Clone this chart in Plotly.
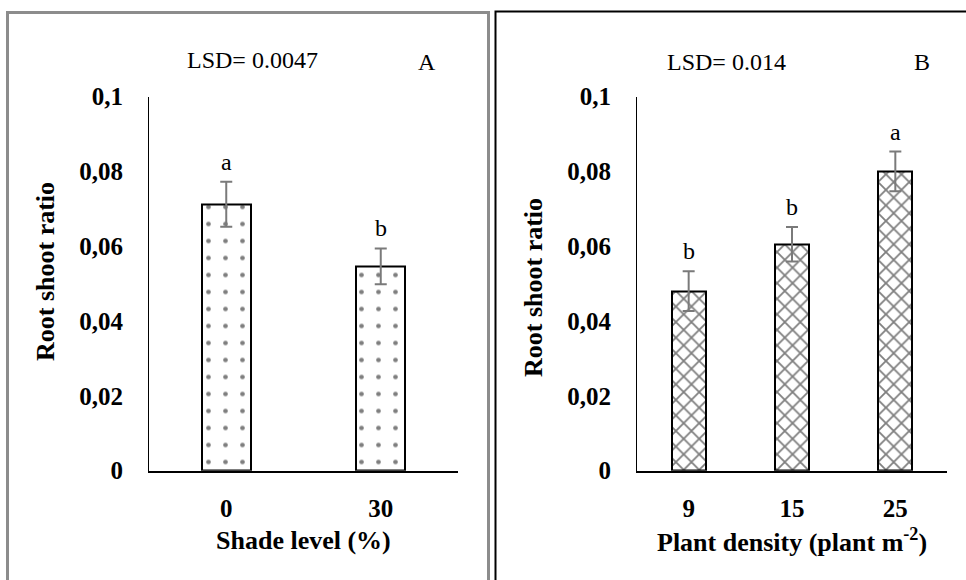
import plotly.graph_objects as go

W, H = 966, 580

# Panel A data
shade_levels = ["0", "30"]
shade_ratio = [0.0712, 0.0546]
shade_err = [0.0060, 0.0048]
shade_letters = ["a", "b"]

# Panel B data
densities = ["9", "15", "25"]
density_ratio = [0.0480, 0.0605, 0.0800]
density_err = [0.0053, 0.0046, 0.0053]
density_letters = ["b", "b", "a"]

y_ticks = [0, 0.02, 0.04, 0.06, 0.08, 0.1]
y_ticklabels = ["0", "0,02", "0,04", "0,06", "0,08", "0,1"]


def px(x):
    return x / W


def py(y):
    return 1 - y / H


FONT = "Liberation Serif"
fig = go.Figure()

fig.add_trace(go.Bar(
    x=shade_levels, y=shade_ratio, width=0.32,
    marker=dict(color="white", line=dict(color="black", width=2),
                pattern=dict(shape=".", fgcolor="black", bgcolor="white", size=17, solidity=0.06)),
    error_y=dict(type="data", array=shade_err, color="#7a7a7a", thickness=2, width=6),
    xaxis="x", yaxis="y", showlegend=False,
))

fig.add_trace(go.Bar(
    x=densities, y=density_ratio, width=0.33,
    marker=dict(color="white", line=dict(color="black", width=2),
                pattern=dict(shape="x", fgcolor="black", bgcolor="white", size=11, solidity=0.3)),
    error_y=dict(type="data", array=density_err, color="#7a7a7a", thickness=2, width=6),
    xaxis="x2", yaxis="y2", showlegend=False,
))

ydom = [py(470.7), py(96.5)]
common_y = dict(range=[0, 0.1], domain=ydom, tickvals=y_ticks, ticktext=y_ticklabels,
                showgrid=False, zeroline=False, showline=True, linecolor="black", linewidth=1,
                ticks="", ticklen=0, automargin=False,
                tickfont=dict(family=FONT, size=25, color="black", weight="bold"),
                ticklabelstandoff=20)
common_x = dict(type="category", showgrid=False, showline=True, linecolor="black", linewidth=2,
                ticks="", automargin=False,
                tickfont=dict(family=FONT, size=25, color="black", weight="bold"),
                ticklabelstandoff=14)

fig.update_layout(
    width=W, height=H, margin=dict(l=0, r=0, t=0, b=0, autoexpand=False),
    paper_bgcolor="white", plot_bgcolor="white",
    font=dict(family=FONT, color="black"),
    bargap=0,
    xaxis=dict(domain=[px(149), px(458)], anchor="y", range=[-0.5, len(shade_levels) - 0.5], **common_x),
    yaxis=dict(anchor="x", **common_y),
    xaxis2=dict(domain=[px(637), px(947)], anchor="y2", range=[-0.5, len(densities) - 0.5], **common_x),
    yaxis2=dict(anchor="x2", **common_y),
)

# letters above bars (category index positions)
for i, (val, err, lab) in enumerate(zip(shade_ratio, shade_err, shade_letters)):
    fig.add_annotation(x=i, y=val + err, xref="x", yref="y", text=lab, showarrow=False,
                       yshift=20, font=dict(family=FONT, size=24, color="black"))
for i, (val, err, lab) in enumerate(zip(density_ratio, density_err, density_letters)):
    fig.add_annotation(x=i, y=val + err, xref="x2", yref="y2", text=lab, showarrow=False,
                       yshift=20, font=dict(family=FONT, size=24, color="black"))

texts = [
    (252, 60, "LSD= 0.0047", False, 0),
    (427, 62, "A", False, 0),
    (726, 62, "LSD= 0.014", False, 0),
    (922, 62, "B", False, 0),
    (303, 540, "<b>Shade level (%)</b>", True, 0),
    (792, 540, "<b>Plant density (plant m<sup>-2</sup>)</b>", True, 0),
    (45, 272, "<b>Root shoot ratio</b>", True, -90),
    (533, 288, "<b>Root shoot ratio</b>", True, -90),
]
for x, y, t, bold, ang in texts:
    fig.add_annotation(x=px(x), y=py(y), xref="paper", yref="paper", text=t, showarrow=False,
                       textangle=ang, xanchor="center", yanchor="middle",
                       font=dict(family=FONT, size=26 if bold else 24, color="black"))

# panel borders
fig.add_shape(type="rect", xref="paper", yref="paper", x0=px(7.5), x1=px(488.5), y0=py(600), y1=py(12.5),
              line=dict(color="#8c8c8c", width=3), fillcolor="rgba(0,0,0,0)")
fig.add_shape(type="rect", xref="paper", yref="paper", x0=px(495.5), x1=px(990), y0=py(600), y1=py(11.5),
              line=dict(color="black", width=2), fillcolor="rgba(0,0,0,0)")

fig.write_html("out.html", config={"displayModeBar": False},
               post_script="document.body.style.margin='0';")
